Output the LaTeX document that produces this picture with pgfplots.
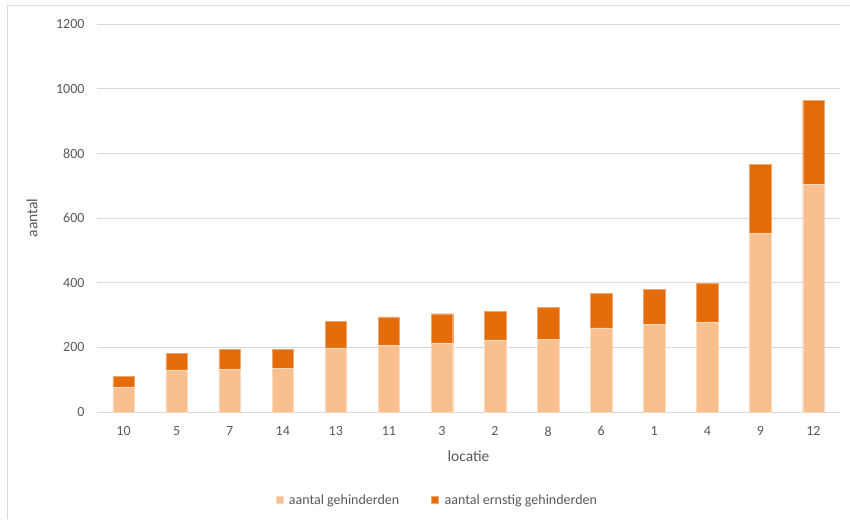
\documentclass[border=0pt]{standalone}
\usepackage{pgfplots}
\pgfplotsset{compat=1.18}
\usepackage{fontspec}
\setmainfont{Carlito}
\definecolor{lightor}{HTML}{F9C08F}
\definecolor{darkor}{HTML}{E46C0A}
\definecolor{gridc}{HTML}{D9D9D9}
\definecolor{txt}{HTML}{595959}
\begin{document}
\begin{tikzpicture}[x=1pt,y=1pt]
\useasboundingbox (0,0) rectangle (850,519);
\draw[gridc] (7,0) -- (7,514) -- (850,514);
\begin{axis}[
  at={(97pt,107pt)}, anchor=south west,
  scale only axis, width=743pt, height=388pt,
  ybar stacked, bar width=21.5pt,
  xmin=-0.5, xmax=13.5, ymin=0, ymax=1200,
  ytick={0,200,...,1200},
  xtick=data,
  xticklabels={10,5,7,14,13,11,3,2,8,6,1,4,9,12},
  major tick length=0pt,
  axis line style={draw=none},
  ymajorgrids, grid style={gridc, line width=0.9pt},
  /pgf/number format/assume math mode=true,
  /pgf/number format/1000 sep={},
  tick label style={font=\fontsize{14}{16}\selectfont, text=txt},
  yticklabel style={xshift=-9pt},
  xticklabel style={yshift=-11pt},
  xlabel={locatie}, ylabel={aantal},
  label style={font=\fontsize{15.5}{18}\selectfont, text=txt},
  x label style={at={(axis description cs:0.5,-0.1134)}, anchor=center},
  y label style={at={(axis description cs:-0.0875,0.5)}, anchor=center, rotate=0},
  legend columns=2,
  legend style={draw=none, font=\fontsize{14}{16}\selectfont, text=txt,
    at={(axis description cs:0.458,-0.2268)}, anchor=center,
    /tikz/every odd column/.append style={column sep=4pt},
    /tikz/every even column/.append style={column sep=30pt}},
  legend image code/.code={\fill[#1] (0pt,-3.5pt) rectangle (7pt,3.5pt);},
]
\addplot[fill=lightor, draw=lightor!60!white] coordinates {
 (0,78) (1,130) (2,132) (3,134) (4,198) (5,206) (6,214) (7,223) (8,225) (9,260) (10,272) (11,279) (12,552) (13,705)};
\addlegendentry{aantal gehinderden}
\addplot[fill=darkor, draw=darkor!60!white] coordinates {
 (0,32) (1,51) (2,61) (3,59) (4,82) (5,88) (6,90) (7,89) (8,99) (9,108) (10,108) (11,118) (12,213) (13,258)};
\addlegendentry{aantal ernstig gehinderden}
\end{axis}
\end{tikzpicture}
\end{document}
